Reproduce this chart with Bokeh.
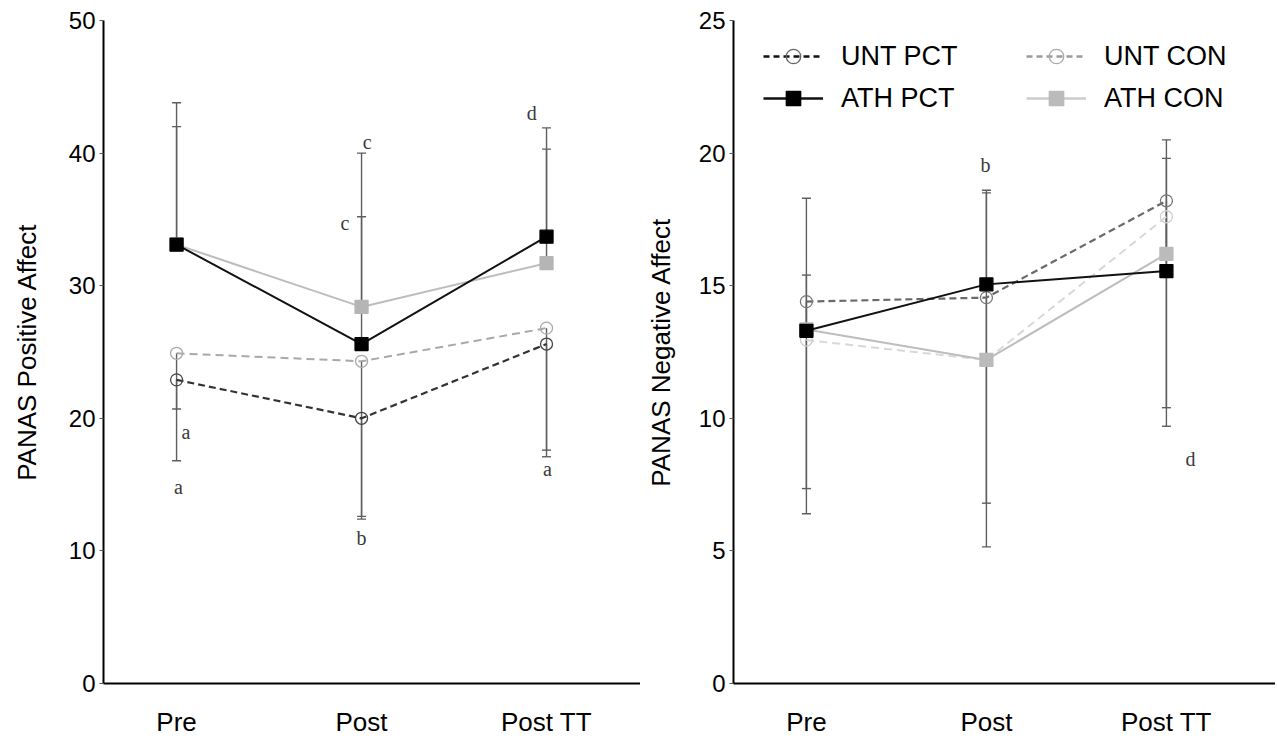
from bokeh.plotting import figure
from bokeh.models import Range1d, FixedTicker, Legend, LegendItem, ColumnDataSource
from bokeh.layouts import row
from bokeh.embed import file_html
from bokeh.resources import INLINE
from bokeh.core.properties import value

# ---------------- data ----------------
categories = ["Pre", "Post", "Post TT"]
x_idx = [0, 1, 2]

# Positive affect (left panel)
pos_unt_pct = [22.9, 20.0, 25.6]
pos_unt_pct_low = [16.8, 12.4, 17.1]
pos_unt_con = [24.9, 24.3, 26.8]
pos_unt_con_low = [20.7, 12.6, 17.6]
pos_ath_pct = [33.1, 25.6, 33.7]
pos_ath_pct_high = [43.8, 35.2, 41.9]
pos_ath_con = [33.1, 28.4, 31.7]
pos_ath_con_high = [42.0, 40.0, 40.3]

pos_letters = ["a", "a", "c", "c", "b", "d", "a"]
pos_letter_x = [0.05, 0.01, 1.03, 0.91, 1.0, 1.92, 2.005]
pos_letter_y = [19.0, 14.8, 40.8, 34.7, 11.0, 43.0, 16.2]

# Negative affect (right panel)
neg_unt_pct = [14.4, 14.55, 18.2]
neg_unt_pct_low = [6.4, 5.15, 9.7]
neg_unt_con = [12.95, 12.2, 17.6]
neg_unt_con_low = [7.35, 6.8, 10.4]
neg_ath_pct = [13.3, 15.05, 15.55]
neg_ath_pct_high = [18.3, 18.6, 20.5]
neg_ath_con = [13.35, 12.2, 16.2]
neg_ath_con_high = [15.4, 18.5, 19.8]

neg_letters = ["b", "d"]
neg_letter_x = [0.995, 2.134]
neg_letter_y = [19.55, 8.45]

SANS = "Liberation Sans"
SERIF = "Liberation Serif"
ERR_COLOR = "#5e5e5e"
FIG_H = 739


def make_fig(x_start, x_end, y_end, y_ticks, ylabel, width, border_left, label_standoff):
    p = figure(width=width, height=FIG_H,
               x_range=Range1d(x_start, x_end), y_range=Range1d(0, y_end),
               output_backend="svg", toolbar_location=None,
               min_border_left=border_left, min_border_right=0,
               min_border_top=20, min_border_bottom=FIG_H - 683)
    p.outline_line_color = None
    p.grid.visible = False
    p.background_fill_color = "white"
    p.border_fill_color = "white"

    xa = p.xaxis[0]
    xa.ticker = FixedTicker(ticks=x_idx)
    xa.major_label_overrides = {i: c for i, c in zip(x_idx, categories)}
    xa.major_tick_line_color = None
    xa.minor_tick_line_color = None
    xa.axis_line_color = "black"
    xa.axis_line_width = 2
    xa.major_label_text_font = SANS
    xa.major_label_text_font_size = "26px"
    xa.major_label_text_color = "black"
    xa.major_label_standoff = 17

    ya = p.yaxis[0]
    ya.ticker = FixedTicker(ticks=y_ticks)
    ya.axis_line_color = "black"
    ya.axis_line_width = 2
    ya.major_tick_line_color = "#555555"
    ya.major_tick_out = 4
    ya.major_tick_in = 0
    ya.minor_tick_line_color = None
    ya.major_label_text_font = SANS
    ya.major_label_text_font_size = "24px"
    ya.major_label_text_color = "black"
    ya.major_label_standoff = 4
    ya.axis_label = ylabel
    ya.axis_label_text_font = SANS
    ya.axis_label_text_font_size = "26px"
    ya.axis_label_text_font_style = "normal"
    ya.axis_label_text_color = "black"
    ya.axis_label_standoff = label_standoff
    return p


def err(p, means, ends):
    src = ColumnDataSource(dict(x=x_idx, m=means, e=ends))
    p.segment(x0="x", y0="m", x1="x", y1="e", source=src,
              line_color=ERR_COLOR, line_width=1.4)
    p.scatter(x="x", y="e", source=src, marker="dash", size=9,
              line_color=ERR_COLOR, line_width=1.4)


def series(p, vals, color, dash, width, marker, mcolor, mfill, msize):
    src = ColumnDataSource(dict(x=x_idx, y=vals))
    lr = p.line(x="x", y="y", source=src, line_color=color,
                line_dash=dash, line_width=width)
    mr = p.scatter(x="x", y="y", source=src, marker=marker, size=msize,
                   line_color=mcolor, fill_color=mfill, line_width=1.3)
    return lr, mr


def letters(p, xs, ys, txt):
    src = ColumnDataSource(dict(x=xs, y=ys, t=txt))
    p.text(x="x", y="y", text="t", source=src,
           text_font=value(SERIF), text_font_size="20px",
           text_align="center", text_baseline="middle", text_color="#3a3a3a")


# ---------------- left panel ----------------
left = make_fig(-0.395, 2.508, 50, [0, 10, 20, 30, 40, 50],
                "PANAS Positive Affect", 640, 103, 24)
err(left, pos_ath_pct, pos_ath_pct_high)
err(left, pos_ath_con, pos_ath_con_high)
err(left, pos_unt_pct, pos_unt_pct_low)
err(left, pos_unt_con, pos_unt_con_low)
series(left, pos_unt_con, "#a9a9a9", "8 5", 2, "circle", "#aaaaaa", None, 12)
series(left, pos_unt_pct, "#333333", "7 4", 2.2, "circle", "#444444", None, 12)
series(left, pos_ath_con, "#bdbdbd", "solid", 2, "square", "#b5b5b5", "#b5b5b5", 13)
series(left, pos_ath_pct, "#111111", "solid", 2, "square", "black", "black", 13)
letters(left, pos_letter_x, pos_letter_y, pos_letters)

# ---------------- right panel ----------------
right = make_fig(-0.405, 2.606, 25, [0, 5, 10, 15, 20, 25],
                 "PANAS Negative Affect", 635, 93, 20)
err(right, neg_ath_pct, neg_ath_pct_high)
err(right, neg_ath_con, neg_ath_con_high)
err(right, neg_unt_pct, neg_unt_pct_low)
err(right, neg_unt_con, neg_unt_con_low)
series(right, neg_unt_con, "#d8d8d8", "8 5", 2, "circle", "#cfcfcf", None, 12)
series(right, neg_ath_con, "#bdbdbd", "solid", 2, "square", "#bbbbbb", "#bbbbbb", 13)
series(right, neg_unt_pct, "#6a6a6a", "7 4", 2.2, "circle", "#777777", None, 12)
series(right, neg_ath_pct, "#111111", "solid", 2, "square", "black", "black", 13)
letters(right, neg_letter_x, neg_letter_y, neg_letters)

# legend (off-range dummy renderers so only the legend shows them)
lg_x = [-5, -4]
lg_y = [-5, -5]
leg_specs = [
    ("UNT PCT", "#111111", "6 4", "circle", "#666666", None),
    ("ATH PCT", "#111111", "solid", "square", "black", "black"),
    ("UNT CON", "#9a9a9a", "6 4", "circle", "#aaaaaa", None),
    ("ATH CON", "#cccccc", "solid", "square", "#bbbbbb", "#bbbbbb"),
]
items = []
for lab, lc, ld, mk, mc, mf in leg_specs:
    lr = right.line(x=lg_x, y=lg_y, line_color=lc, line_dash=ld, line_width=2.5)
    mr = right.scatter(x=lg_x, y=lg_y, marker=mk, size=13,
                       line_color=mc, fill_color=mf, line_width=1.3)
    items.append(LegendItem(label=lab, renderers=[lr, mr]))

legend = Legend(items=items, location=(30, 567), ncols=2,
                glyph_width=60, glyph_height=36, label_height=36,
                label_standoff=18, label_width=179, spacing=6, padding=10,
                margin=0,
                label_text_font=SANS, label_text_font_size="27px",
                label_text_color="black",
                background_fill_alpha=0, border_line_color=None)
right.add_layout(legend)

layout = row(left, right)
open("out.html", "w").write(file_html(layout, INLINE))
